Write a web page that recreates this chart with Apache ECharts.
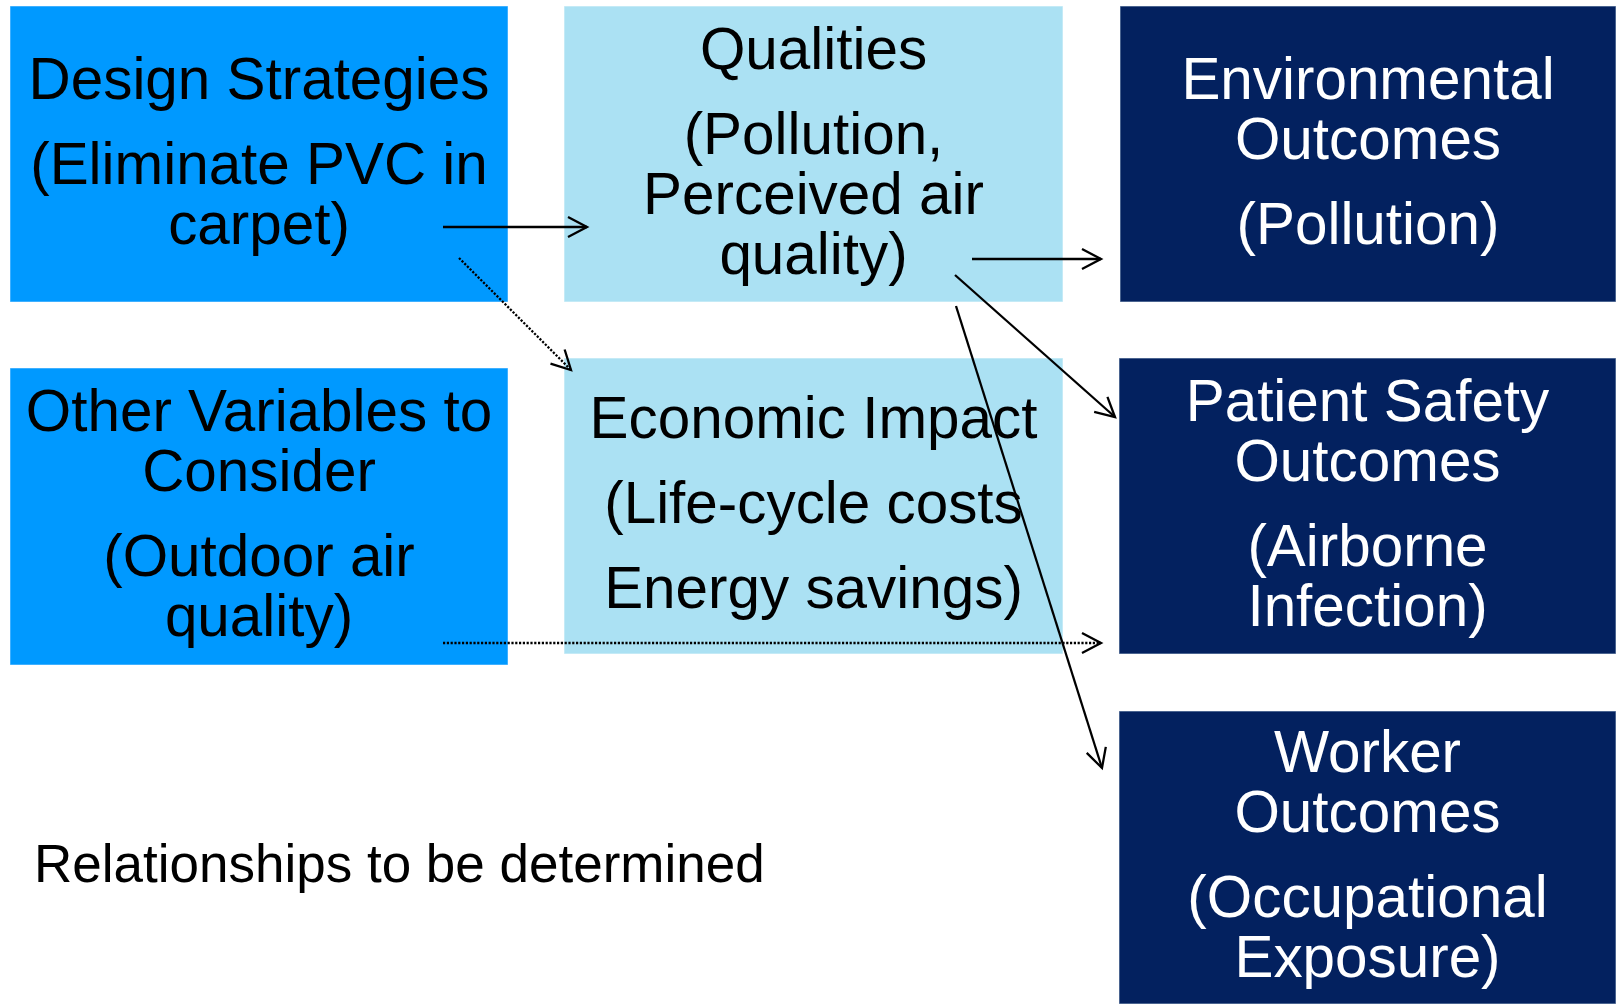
<!DOCTYPE html>
<html>
<head>
<meta charset="utf-8">
<script src="https://cdn.jsdelivr.net/npm/echarts@6/dist/echarts.min.js"></script>
<style>
html,body{margin:0;padding:0;background:#fff;}
#chart{width:1616px;height:1004px;}
</style>
</head>
<body>
<div id="chart"></div>
<script>
// ---- Diagram data ----
const boxNames = ['Design Strategies', 'Qualities', 'Environmental Outcomes', 'Other Variables', 'Economic Impact', 'Patient Safety Outcomes', 'Worker Outcomes'];
const boxKind  = ['driver', 'mediator', 'outcome', 'driver', 'mediator', 'outcome', 'outcome'];
const boxLeft   = [10, 564, 1120, 10, 564, 1119, 1119];
const boxTop    = [6, 6, 6, 368, 358, 358, 711];
const boxRight  = [508, 1063, 1616, 508, 1063, 1616, 1616];
const boxBottom = [302, 302, 302, 665, 654, 654, 1004];
const boxText = [
  [['Design Strategies'], ['(Eliminate PVC in', 'carpet)']],
  [['Qualities'], ['(Pollution,', 'Perceived air', 'quality)']],
  [['Environmental', 'Outcomes'], ['(Pollution)']],
  [['Other Variables to', 'Consider'], ['(Outdoor air', 'quality)']],
  [['Economic Impact'], ['(Life-cycle costs'], ['Energy savings)']],
  [['Patient Safety', 'Outcomes'], ['(Airborne', 'Infection)']],
  [['Worker', 'Outcomes'], ['(Occupational', 'Exposure)']]
];
const arrowFromX = [443, 459, 972, 955, 956, 443];
const arrowFromY = [227, 258, 259, 275, 306, 643];
const arrowToX   = [587, 571, 1101, 1115, 1102, 1101];
const arrowToY   = [227, 370, 259, 417, 768, 643];
const arrowDotted = [0, 1, 0, 0, 0, 1];
const noteText = 'Relationships to be determined';
const notePos = [34, 841];

// ---- styles ----
const kindFill   = { driver: '#0099FF', mediator: '#ABE1F3', outcome: '#03215F' };
const kindStroke = { driver: '#3FB0FF', mediator: '#C4EAF6', outcome: '#4A6490' };
const kindText   = { driver: '#000000', mediator: '#000000', outcome: '#FFFFFF' };
const FONT = '"Liberation Sans", Arial, Helvetica, sans-serif';

const chart = echarts.init(document.getElementById('chart'), null, { renderer: 'canvas' });

const boxData = boxNames.map((n, i) => [boxLeft[i], boxTop[i], boxRight[i], boxBottom[i], i]);
const arrowData = arrowFromX.map((x, i) => [x, arrowFromY[i], arrowToX[i], arrowToY[i], arrowDotted[i]]);

function renderBox(params, api) {
  const i = api.value(4);
  const p0 = api.coord([api.value(0), api.value(1)]);
  const p1 = api.coord([api.value(2), api.value(3)]);
  const x = Math.min(p0[0], p1[0]), y = Math.min(p0[1], p1[1]);
  const w = Math.abs(p1[0] - p0[0]), h = Math.abs(p1[1] - p0[1]);
  const kind = boxKind[i];
  const children = [{
    type: 'rect',
    shape: { x: x + 0.5, y: y + 0.5, width: w - 1, height: h - 1 },
    style: { fill: kindFill[kind], stroke: kindStroke[kind], lineWidth: 1 }
  }];
  const paras = boxText[i];
  const LH = 60, GAP = 25;
  let nLines = 0;
  paras.forEach(p => nLines += p.length);
  const total = nLines * LH + (paras.length - 1) * GAP;
  let cy = y + h / 2 - total / 2 + 1 + LH / 2;
  const cx = x + w / 2;
  paras.forEach((p, pi) => {
    if (pi > 0) cy += GAP;
    p.forEach(line => {
      children.push({
        type: 'text',
        style: {
          text: line, x: cx, y: cy, align: 'center', verticalAlign: 'middle',
          fill: kindText[kind], fontSize: 58.4, fontFamily: FONT
        }
      });
      cy += LH;
    });
  });
  return { type: 'group', children: children };
}

function renderArrow(params, api) {
  const a = api.coord([api.value(0), api.value(1)]);
  const b = api.coord([api.value(2), api.value(3)]);
  const dotted = api.value(4) === 1;
  const ang = Math.atan2(b[1] - a[1], b[0] - a[0]);
  const L = 19, W = 10;
  const bx = b[0] - L * Math.cos(ang), by = b[1] - L * Math.sin(ang);
  const nx = -Math.sin(ang), ny = Math.cos(ang);
  return {
    type: 'group',
    children: [
      { type: 'line', shape: { x1: a[0], y1: a[1], x2: b[0], y2: b[1] },
        style: { stroke: '#000', lineWidth: 2.3, lineDash: dotted ? [2.2, 1.6] : null, fill: null } },
      { type: 'polyline', shape: { points: [[bx + W * nx, by + W * ny], [b[0], b[1]], [bx - W * nx, by - W * ny]] },
        style: { stroke: '#000', lineWidth: 2.3, fill: null } }
    ]
  };
}

function renderNote(params, api) {
  const p = api.coord([api.value(0), api.value(1)]);
  return {
    type: 'text',
    style: { text: noteText, x: p[0], y: p[1], align: 'left', verticalAlign: 'top',
             fill: '#000', fontSize: 53, fontFamily: FONT }
  };
}

chart.setOption({
  animation: false,
  backgroundColor: '#ffffff',
  grid: { left: 0, right: 0, top: 0, bottom: 0 },
  xAxis: { type: 'value', min: 0, max: 1616, show: false },
  yAxis: { type: 'value', min: 0, max: 1004, inverse: true, show: false },
  series: [
    { type: 'custom', name: 'boxes', renderItem: renderBox, data: boxData, encode: { x: [0, 2], y: [1, 3] }, z: 1, silent: true, clip: false },
    { type: 'custom', name: 'arrows', renderItem: renderArrow, data: arrowData, encode: { x: [0, 2], y: [1, 3] }, z: 5, silent: true, clip: false },
    { type: 'custom', name: 'note', renderItem: renderNote, data: [notePos], encode: { x: 0, y: 1 }, z: 5, silent: true, clip: false }
  ]
});
</script>
</body>
</html>
